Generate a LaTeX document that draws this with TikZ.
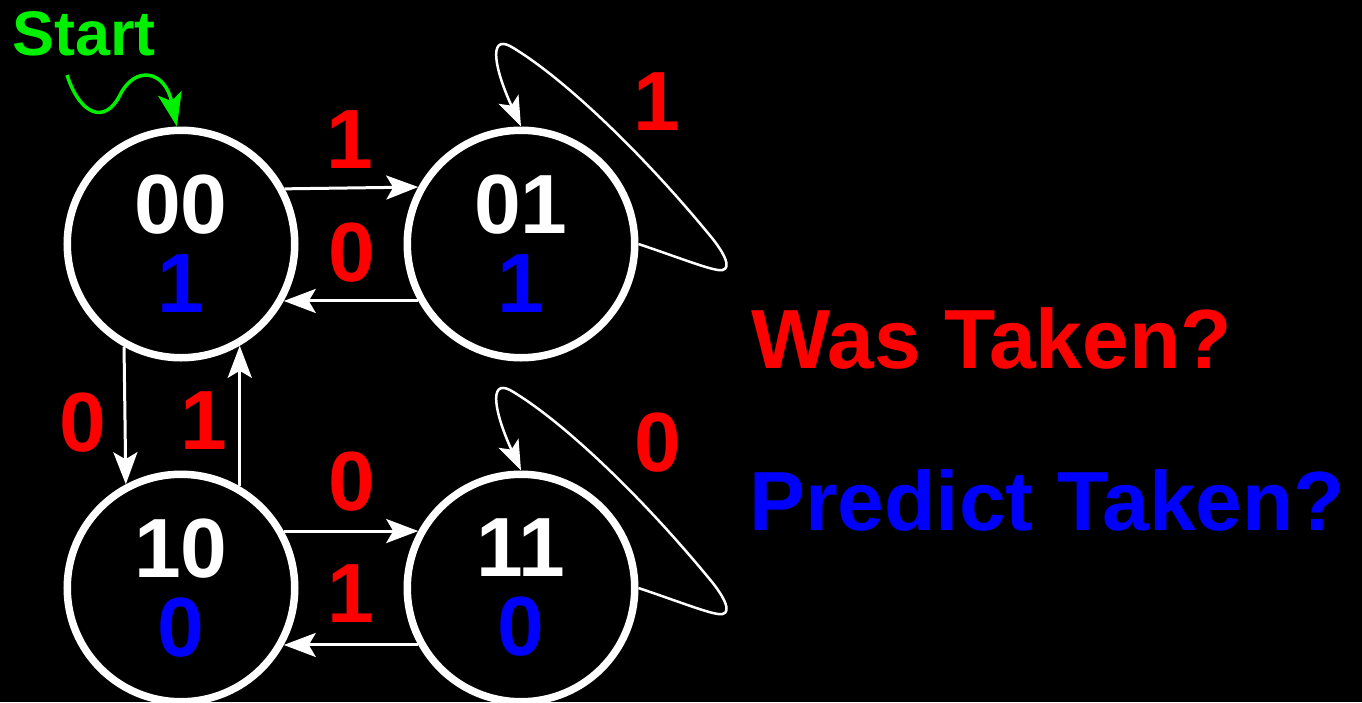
\documentclass[tikz,border=0pt]{standalone}
\usepackage{fontspec}
\setmainfont{Liberation Sans}
\usetikzlibrary{arrows.meta,calc}
\definecolor{rred}{RGB}{255,0,0}
\definecolor{bblue}{RGB}{0,0,255}
\definecolor{ggreen}{RGB}{0,240,0}
\begin{document}
\begin{tikzpicture}[x=1pt,y=-1pt,
  state/.style={circle,draw=white,line width=7.5pt,minimum size=227.5pt,inner sep=0pt,
    text=white,font=\fontsize{84}{79}\selectfont\bfseries,align=center},
  edge/.style={draw=white,line width=3pt,-{Stealth[length=32pt,width=24pt,inset=7pt]}},
  loopedge/.style={draw=white,line width=2.5pt,-{Stealth[length=30pt,width=22pt,inset=7pt]}},
  startedge/.style={draw=ggreen,line width=3.5pt,-{Stealth[length=34pt,width=24pt,inset=8pt]}},
  lab/.style={text=rred,font=\fontsize{84}{84}\selectfont\bfseries,inner sep=0pt},
  legend/.style={font=\fontsize{84}{84}\selectfont\bfseries,inner sep=0pt,anchor=base west}]
\fill[black] (0,0) rectangle (1362,702);
\useasboundingbox (0,0) rectangle (1362,702);

\node[state] (n00) at (181,244) {00\\\textcolor{bblue}{1}};
\node[state] (n01) at (521,244) {01\\\textcolor{bblue}{1}};
\node[state] (n10) at (181,588) {10\\\textcolor{bblue}{0}};
\node[state] (n11) at (521,588) {11\\\textcolor{bblue}{0}};

% start
\node[text=ggreen,font=\fontsize{63}{63}\selectfont\bfseries,inner sep=0pt,anchor=base west] (start) at (12,55) {Start};
\coordinate (s0) at (67,75);
\draw[startedge] (s0) .. controls (80,115) and (105,125) .. (120,95)
  .. controls (135,65) and (165,70) .. (n00.92);

% horizontal
\draw[edge] (n00.28.5) -- (n01.151.5);
\draw[edge] (n01.-151) -- (n00.-29);
\draw[edge] (n10.29) -- (n11.151);
\draw[edge] (n11.-151) -- (n10.-29);
% vertical
\draw[edge] (n00.241.5) -- (n10.118.5);
\draw[edge] (n10.60) -- (n00.-60);

% self loops
\foreach \n in {n01,n11}{
  \draw[loopedge] (\n.east)
    .. controls ($(\n)+(159,14)$) and ($(\n)+(184,24)$) .. ($(\n)+(197,26)$)
    .. controls ($(\n)+(211,28)$) and ($(\n)+(207,14)$) .. ($(\n)+(191,-6)$)
    .. controls ($(\n)+(119,-94)$) and ($(\n)+(39,-169)$) .. ($(\n)+(-11,-198)$)
    .. controls ($(\n)+(-33,-209)$) and ($(\n)+(-26,-174)$) .. (\n.north);
}

% edge labels
\node[lab] (l1) at (350,140) {1};
\node[lab] (l2) at (352,253) {0};
\node[lab] (l3) at (83,423) {0};
\node[lab] (l4) at (204,421) {1};
\node[lab] (l5) at (352,482) {0};
\node[lab] (l6) at (351,594) {1};
\node[lab] (l7) at (657,102) {1};
\node[lab] (l8) at (658,443) {0};

% legend
\node[legend,text=rred] (was) at (751,368) {Was Taken?};
\node[legend,text=bblue] (pred) at (749,530) {Predict Taken?};
\end{tikzpicture}
\end{document}
